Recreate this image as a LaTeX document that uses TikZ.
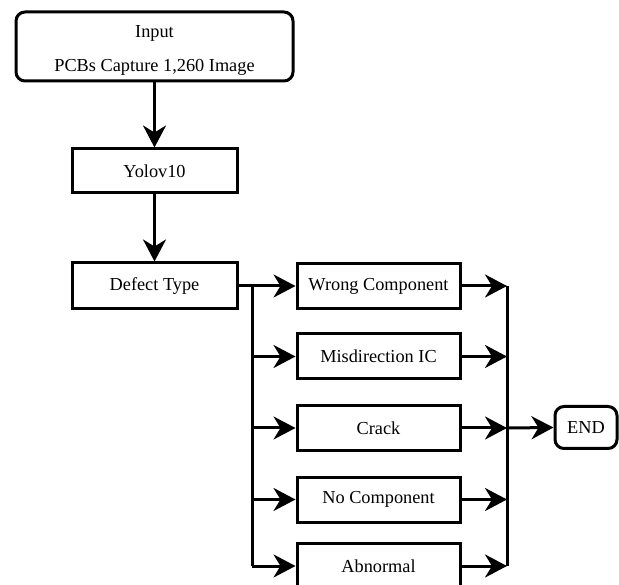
\documentclass[tikz,border=0pt]{standalone}
\usepackage{fontspec}
\setmainfont{Liberation Serif}
\usetikzlibrary{arrows.meta}
\begin{document}
\begin{tikzpicture}[x=1pt,y=-1pt,
  every node/.style={font=\fontsize{18.3}{22}\selectfont},
  box/.style={draw,line width=3pt,minimum width=163pt,minimum height=45pt,inner sep=0pt},
  rbox/.style={draw,line width=3pt,rounded corners=9pt,inner sep=0pt},
  arr/.style={line width=3pt,-{Stealth[length=22pt,width=23pt,inset=7pt]}},
  ln/.style={line width=3pt}]
\useasboundingbox (0,0) rectangle (619,585);
\node[rbox,minimum width=277pt,minimum height=69pt] (input) at (154.5,46.5) {};
\node[align=center] (inputtxt) at (154.5,50) {Input\\[12pt]PCBs Capture 1,260 Image};
\node[box,minimum width=165pt,minimum height=44pt] (yolo) at (154.5,171) {Yolov10};
\node[box,minimum width=165pt,minimum height=46pt] (dt) at (154.5,286) {Defect Type};
\node[box] (wc) at (378.5,286) {Wrong Component};
\node[box] (mis) at (378.5,356.5) {Misdirection IC};
\node[box] (cr) at (378.5,428) {Crack};
\node[box] (nc) at (378.5,499.5) {No Component};
\node[box] (ab) at (378.5,566) {Abnormal};
\node[rbox,minimum width=62pt,minimum height=42pt] (end) at (586,427.5) {END};
\coordinate (bx) at (252,286);
\coordinate (cx) at (507,286);
\draw[arr] (input) -- (yolo);
\draw[arr] (yolo) -- (dt);
\draw[arr] (dt.east) -- (wc.west);
\draw[ln] (bx) -- (bx |- ab.west);
\foreach \b in {mis,cr,nc,ab} \draw[arr] (bx |- \b.west) -- (\b.west);
\foreach \b in {wc,mis,cr,nc,ab} \draw[arr] (\b.east) -- (cx |- \b.east);
\draw[ln] (cx |- wc.east) -- (cx |- ab.east);
\draw[arr] (cx |- cr.east) -- (end.west);
\end{tikzpicture}
\end{document}
